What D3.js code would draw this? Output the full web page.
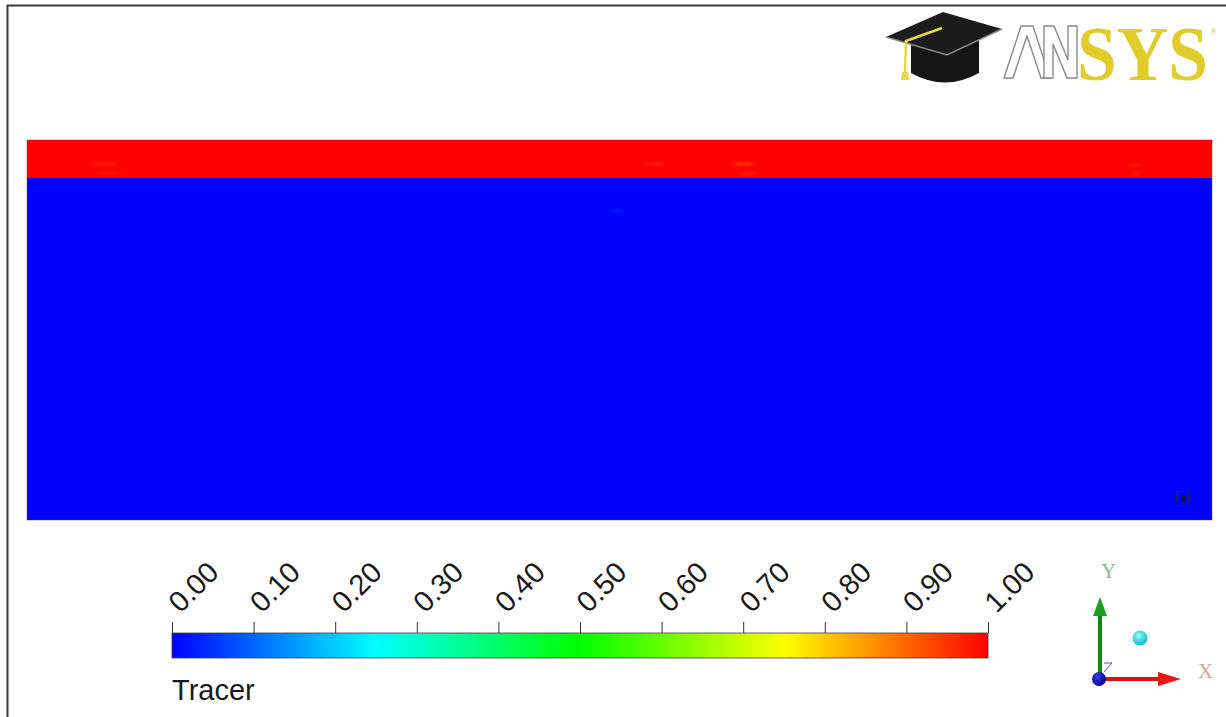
<!DOCTYPE html>
<html>
<head>
<meta charset="utf-8">
<script src="https://cdn.jsdelivr.net/npm/d3@7"></script>
<style>
  html, body { margin: 0; padding: 0; background: #fff; }
  svg { display: block; }
</style>
</head>
<body>
<svg id="chart" width="1226" height="717"></svg>
<script>
// ---- Tracer field: horizontal layers (normalized domain coordinates) ----
const layerBottom = [0.0, 0.9];
const layerTop    = [0.9, 1.0];
const layerValue  = [0.0, 1.0];

// Small local streaks of slightly different tracer value
const streakX0    = [0.053, 0.060, 0.523, 0.596, 0.602, 0.931, 0.934, 0.492];
const streakX1    = [0.077, 0.080, 0.537, 0.613, 0.615, 0.939, 0.939, 0.503];
const streakY     = [0.937, 0.913, 0.937, 0.937, 0.913, 0.934, 0.913, 0.813];
const streakValue = [0.96, 0.97, 0.96, 0.93, 0.95, 0.96, 0.96, 0.04];

// ---- Colour legend ----
const legendTicks = [0.0, 0.1, 0.2, 0.3, 0.4, 0.5, 0.6, 0.7, 0.8, 0.9, 1.0];
const legendTitle = "Tracer";
const rainbowStops = [0, 0.25, 0.5, 0.75, 1];
const rainbowColors = ["#0000ff", "#00ffff", "#00ff00", "#ffff00", "#ff0000"];

const svg = d3.select("#chart");
const color = d3.scaleLinear().domain(rainbowStops).range(rainbowColors).clamp(true);

// page frame
svg.append("path")
  .attr("d", "M7.5,717 V5.5 H1226")
  .attr("fill", "none").attr("stroke", "#3a3a3a").attr("stroke-width", 2);

// ---- contour plot ----
const x = d3.scaleLinear().domain([0, 1]).range([27, 1212]);
const y = d3.scaleLinear().domain([0, 1]).range([520, 140]);

const defs = svg.append("defs");
defs.append("filter").attr("id", "soft")
  .attr("x", "-50%").attr("y", "-200%").attr("width", "200%").attr("height", "500%")
  .append("feGaussianBlur").attr("stdDeviation", "3 1.2");

const field = svg.append("g");
field.selectAll("rect.layer")
  .data(layerValue.map((v, i) => ({ v, b: layerBottom[i], t: layerTop[i] })))
  .join("rect")
  .attr("class", "layer")
  .attr("x", x(0)).attr("width", x(1) - x(0))
  .attr("y", d => y(d.t)).attr("height", d => y(d.b) - y(d.t))
  .attr("fill", d => color(d.v));

field.selectAll("rect.streak")
  .data(streakValue.map((v, i) => ({ v, x0: streakX0[i], x1: streakX1[i], yy: streakY[i] })))
  .join("rect")
  .attr("class", "streak")
  .attr("x", d => x(d.x0)).attr("width", d => x(d.x1) - x(d.x0))
  .attr("y", d => y(d.yy) - 1.5).attr("height", 3)
  .attr("fill", d => color(d.v))
  .attr("opacity", 0.8)
  .attr("filter", "url(#soft)");

// domain outline
field.append("rect")
  .attr("x", x(0)).attr("y", y(1))
  .attr("width", x(1) - x(0)).attr("height", y(0) - y(1))
  .attr("fill", "none").attr("stroke", "#7a3050").attr("stroke-opacity", 0.45).attr("stroke-width", 1);

// small probe marker near the lower right corner
svg.append("rect").attr("x", 1176.5).attr("y", 491.5).attr("width", 12).attr("height", 14)
  .attr("fill", "none").attr("stroke", "#1a1a80").attr("stroke-width", 1);
svg.append("ellipse").attr("cx", 1183).attr("cy", 499).attr("rx", 2.5).attr("ry", 4)
  .attr("fill", "#101050");

// ---- colour bar ----
const lx = d3.scaleLinear().domain([0, 1]).range([172, 988]);
const barTop = 633, barH = 25;

const grad = defs.append("linearGradient").attr("id", "rainbow")
  .attr("x1", "0%").attr("x2", "100%").attr("y1", "0%").attr("y2", "0%");
grad.selectAll("stop").data(rainbowStops).join("stop")
  .attr("offset", d => (d * 100) + "%")
  .attr("stop-color", (d, i) => rainbowColors[i]);

svg.append("rect")
  .attr("x", lx(0)).attr("y", barTop)
  .attr("width", lx(1) - lx(0)).attr("height", barH)
  .attr("fill", "url(#rainbow)")
  .attr("stroke", "#404040").attr("stroke-width", 0.8);

const axis = d3.axisTop(lx).tickValues(legendTicks)
  .tickSize(11).tickSizeOuter(0).tickFormat(d3.format(".2f"));
const ag = svg.append("g").attr("transform", `translate(0,${barTop})`).call(axis);
ag.select(".domain").remove();
ag.selectAll(".tick line").attr("stroke", "#333").attr("stroke-width", 1);
ag.selectAll(".tick text")
  .attr("font-family", "Liberation Sans, Arial, sans-serif")
  .attr("font-size", 29)
  .attr("fill", "#1a1a1a")
  .attr("text-anchor", "start")
  .attr("y", 0).attr("dy", 0)
  .attr("transform", "translate(8,-19) rotate(-45)");

svg.append("text")
  .attr("x", 172).attr("y", 700)
  .attr("font-family", "Liberation Sans, Arial, sans-serif")
  .attr("font-size", 29).attr("fill", "#1a1a1a")
  .text(legendTitle);

// ---- axis triad ----
const triad = svg.append("g");
const ox = 1100, oy = 679;
triad.append("rect").attr("x", ox - 2).attr("y", 614).attr("width", 4).attr("height", oy - 614).attr("fill", "#0e8a0e");
triad.append("path").attr("d", `M${ox},597 L${ox + 7},616 L${ox - 7},616 Z`).attr("fill", "#1aa01a");
triad.append("rect").attr("x", ox).attr("y", oy - 2).attr("width", 58).attr("height", 4).attr("fill", "#e01010");
triad.append("path").attr("d", `M1181,${oy} L1158,${oy - 7} L1158,${oy + 7} Z`).attr("fill", "#ee1515");
triad.append("path").attr("d", `M1104,672 L1112,663 L1104,663`).attr("fill", "none").attr("stroke", "#5060a0").attr("stroke-width", 1);
const sg = defs.append("radialGradient").attr("id", "ball").attr("cx", "40%").attr("cy", "35%").attr("r", "65%");
sg.append("stop").attr("offset", "0%").attr("stop-color", "#3a3aff");
sg.append("stop").attr("offset", "100%").attr("stop-color", "#000080");
triad.append("circle").attr("cx", ox - 1).attr("cy", oy).attr("r", 7).attr("fill", "url(#ball)");
const cg = defs.append("radialGradient").attr("id", "cyanball").attr("cx", "40%").attr("cy", "35%").attr("r", "65%");
cg.append("stop").attr("offset", "0%").attr("stop-color", "#8ffcfc");
cg.append("stop").attr("offset", "100%").attr("stop-color", "#10b8c0");
triad.append("circle").attr("cx", 1140).attr("cy", 638).attr("r", 7.5).attr("fill", "url(#cyanball)");
triad.append("text").attr("x", 1101).attr("y", 578)
  .attr("font-family", "Liberation Serif, serif").attr("font-size", 21)
  .attr("fill", "#8fb88f").text("Y");
triad.append("text").attr("x", 1198).attr("y", 678)
  .attr("font-family", "Liberation Serif, serif").attr("font-size", 21)
  .attr("fill", "#e0a0a0").text("X");

// ---- ANSYS academic logo ----
const logo = svg.append("g");
// mortarboard skull cap
logo.append("path")
  .attr("d", "M911,43 L911,73 Q945,92 979,73 L979,39 Z")
  .attr("fill", "#151515");
// board
logo.append("path")
  .attr("d", "M886,37 L943,12 L1002,29 L947,55 Z")
  .attr("fill", "#1c1c1c");
logo.append("path")
  .attr("d", "M886,37 L947,55 L1002,29")
  .attr("fill", "none").attr("stroke", "#8a8a8a").attr("stroke-width", 1.5);
// tassel
logo.append("path")
  .attr("d", "M942,28 L906,41 L905,72")
  .attr("fill", "none").attr("stroke", "#e8d840").attr("stroke-width", 2.5);
logo.append("path")
  .attr("d", "M902,72 L908,72 L909,80 L901,80 Z")
  .attr("fill", "#e8d840");
// outlined "A" and "N"
logo.append("path")
  .attr("d", "M1004,78 L1021,26 L1033,26 L1050,78 L1041,78 L1027,36 L1013,78 Z")
  .attr("fill", "#fff").attr("stroke", "#8a8a8a").attr("stroke-width", 1.4);
logo.append("path")
  .attr("d", "M1044,78 L1044,26 L1054,26 L1068,60 L1068,26 L1077,26 L1077,78 L1067,78 L1053,44 L1053,78 Z")
  .attr("fill", "#fff").attr("stroke", "#8a8a8a").attr("stroke-width", 1.4);
// serif "SYS" with the registered mark as a raised tspan of the same word
const sys = logo.append("text")
  .attr("transform", "translate(1077,80) scale(0.915,1)")
  .attr("font-family", "Liberation Serif, Times New Roman, serif")
  .attr("font-weight", "bold").attr("font-size", 78)
  .attr("fill", "#e2cc2a");
sys.append("tspan").text("SYS");
sys.append("tspan")
  .attr("font-size", 8).attr("font-weight", "normal")
  .attr("dx", 3).attr("dy", -46)
  .attr("fill", "#c8b430").text("®");
</script>
</body>
</html>
